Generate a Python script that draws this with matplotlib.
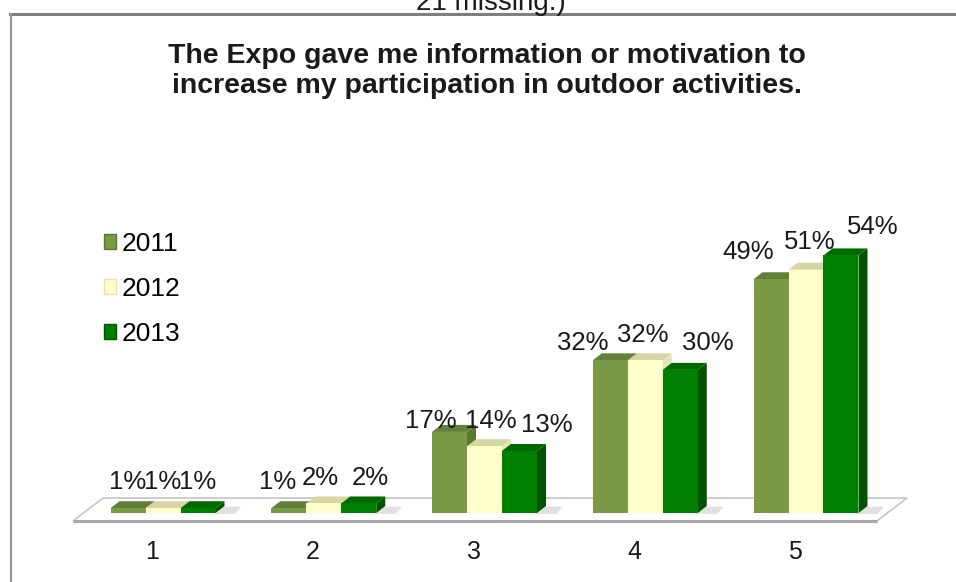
import matplotlib
matplotlib.use("Agg")
import matplotlib.pyplot as plt
from matplotlib.patches import Polygon, Rectangle
from matplotlib.lines import Line2D
import numpy as np

categories = ["1", "2", "3", "4", "5"]
years = ["2011", "2012", "2013"]
pct_2011 = [1, 1, 17, 32, 49]
pct_2012 = [1, 2, 14, 32, 51]
pct_2013 = [1, 2, 13, 30, 54]
series = [pct_2011, pct_2012, pct_2013]

title = ("The Expo gave me information or motivation to\n"
         "increase my participation in outdoor activities.")
note = "21 missing.)"

front_col = ["#7b9a45", "#ffffcc", "#008000"]
top_col = ["#62803a", "#d6d6a4", "#006a00"]
side_col = ["#5a772f", "#e4e4b6", "#005400"]

# nudges of the value labels, px from the front top of each bar
lab_dx = [[0, 0, 0], [-11, -3, 12], [-19, 6, 27], [-27, -2, 28], [-23, 4, 32]]
lab_dy = [[26, 26, 26], [26, 25, 25], [11, 25, 26], [17, 25, 27], [27, 28, 28]]

plt.rcParams['font.family'] = ['Liberation Sans', 'DejaVu Sans']

W, H = 956, 582
fig = plt.figure(figsize=(W / 100, H / 100), dpi=100)

# plot box in pixels, and scale: 160.75 px per category, 4.77 px per percent
L, R, T, B = 60, 930, 150, 530
sx, sy = 160.75, 4.77
x0, y0 = 163, 513
ax = fig.add_axes([L / W, (H - B) / H, (R - L) / W, (B - T) / H])
ax.set_xlim((L - x0) / sx, (R - x0) / sx)
ax.set_ylim((y0 - B) / sy, (y0 - T) / sy)


def px(x, y):
    return ((x - x0) / sx, (y0 - y) / sy)


# floor
floor = Polygon([px(73, 521), px(877, 521), px(907, 498), px(103, 498)],
                closed=True, facecolor="white", edgecolor="#c4c4c4", lw=1.2, zorder=1)
ax.add_patch(floor)
fl, fr = px(73, 521), px(877, 521)
ax.plot([fl[0], fr[0]], [fl[1], fr[1]], color="#a8a8a8", lw=2.2, zorder=1.5,
        solid_capstyle="butt")

w = 35 / sx
ddx, ddy = 9 / sx, 7 / sy
xs = np.arange(len(categories))

# soft shadows on the floor
for i in xs:
    sl = i + 1.5 * w
    ax.add_patch(Polygon([(sl - 0.02, -0.2), (sl + 0.12, -0.2), (sl + 0.16, ddy * 0.9),
                          (sl + 0.02, ddy * 0.9)], closed=True,
                         facecolor="#d9d9d9", edgecolor="none", alpha=0.8, zorder=1.8))

for j, vals in enumerate(series):
    xc = xs + (j - 1) * w
    z = 3 + 3 * j
    for i in xs:
        h = vals[i]
        left = xc[i] - w / 2
        right = left + w
        side = Polygon([(right, 0), (right + ddx, ddy), (right + ddx, h + ddy), (right, h)],
                       closed=True, facecolor=side_col[j], edgecolor="none", zorder=z)
        top = Polygon([(left, h), (right, h), (right + ddx, h + ddy), (left + ddx, h + ddy)],
                      closed=True, facecolor=top_col[j], edgecolor="none", zorder=z + 1)
        ax.add_patch(side)
        ax.add_patch(top)
    ax.bar(xc, vals, width=w, color=front_col[j], edgecolor="none", zorder=z + 2)
    for i in xs:
        ax.annotate(f"{vals[i]}%", xy=(xc[i], vals[i]),
                    xytext=(lab_dx[i][j], lab_dy[i][j]), textcoords="offset pixels",
                    ha="center", va="center", fontsize=18.5, color="#1a1a1a", zorder=20)

ax.set_xticks(xs - 11 / sx, categories)
ax.tick_params(axis="x", length=0, pad=7, labelsize=18, labelcolor="#1a1a1a")
ax.set_yticks([])
for s in ax.spines.values():
    s.set_visible(False)
ax.patch.set_alpha(0)

handles = [Rectangle((0, 0), 1, 1, facecolor=front_col[k], edgecolor=side_col[k], lw=1)
           for k in range(3)]
fig.legend(handles, years, loc="center left", bbox_to_anchor=(104 / W, 1 - 289 / H),
           frameon=False, fontsize=19, handlelength=0.45, handleheight=0.5,
           handletextpad=0.2, labelspacing=0.8, borderpad=0, borderaxespad=0)

# chart frame
fig.add_artist(Line2D([10 / W, 1], [1 - 14 / H, 1 - 14 / H], color="#808080", lw=2.2,
                      transform=fig.transFigure))
fig.add_artist(Line2D([11 / W, 11 / W], [0, 1 - 14 / H], color="#9a9a9a", lw=1.6,
                      transform=fig.transFigure))

fig.text(491 / W, 1 - 10 / H, note, ha="center", va="baseline", fontsize=20, color="#1a1a1a")
fig.text(487 / W, 1 - 71 / H, title, ha="center", va="center", fontsize=20.5,
         fontweight="bold", linespacing=1.22, color="#1a1a1a")

fig.savefig("out.png", dpi=100)
